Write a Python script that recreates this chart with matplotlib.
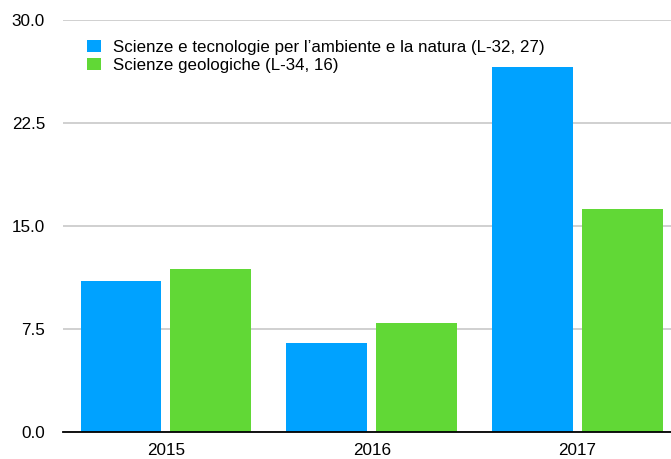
import numpy as np
import matplotlib.pyplot as plt

plt.rcParams['font.family'] = ['Liberation Sans', 'DejaVu Sans']

years = ["2015", "2016", "2017"]
series_names = ["Scienze e tecnologie per l\u2019ambiente e la natura (L-32, 27)",
                "Scienze geologiche (L-34, 16)"]
ambiente = [11.0, 6.5, 26.6]
geologiche = [11.9, 7.95, 16.25]
y_ticks = [0.0, 7.5, 15.0, 22.5, 30.0]

fig = plt.figure(figsize=(6.71, 4.59), dpi=100)
ax = fig.add_axes([63 / 671, 27 / 459, 608 / 671, 412 / 459])

x = np.arange(len(years))
w = 0.393
off = 0.218
ax.bar(x - off, ambiente, w, color="#00A2FF", label=series_names[0], zorder=3)
ax.bar(x + off, geologiche, w, color="#61D836", label=series_names[1], zorder=3)

ax.set_ylim(0, 30)
ax.set_xlim(-0.5, 2.454)
ax.set_yticks(y_ticks)
ax.set_yticklabels([f"{v:.1f}" for v in y_ticks], fontsize=12.3)
ax.set_xticks(x)
ax.set_xticklabels(years, fontsize=12.3)
ax.yaxis.grid(True, color="#c8c8c8", linewidth=1.2, zorder=0)
for s in ["left", "right", "top"]:
    ax.spines[s].set_visible(False)
ax.spines["bottom"].set_color("black")
ax.spines["bottom"].set_linewidth(1.3)
ax.spines["bottom"].set_zorder(4)
ax.tick_params(axis="both", length=0)
ax.tick_params(axis="y", pad=13)
ax.tick_params(axis="x", pad=8)

ax.legend(loc="upper left", bbox_to_anchor=(0.029, 0.969), frameon=False,
          fontsize=12.2, handlelength=0.78, handleheight=0.78, handletextpad=0.75,
          labelspacing=0.17, borderaxespad=0)

fig.savefig("out.png", dpi=100)
